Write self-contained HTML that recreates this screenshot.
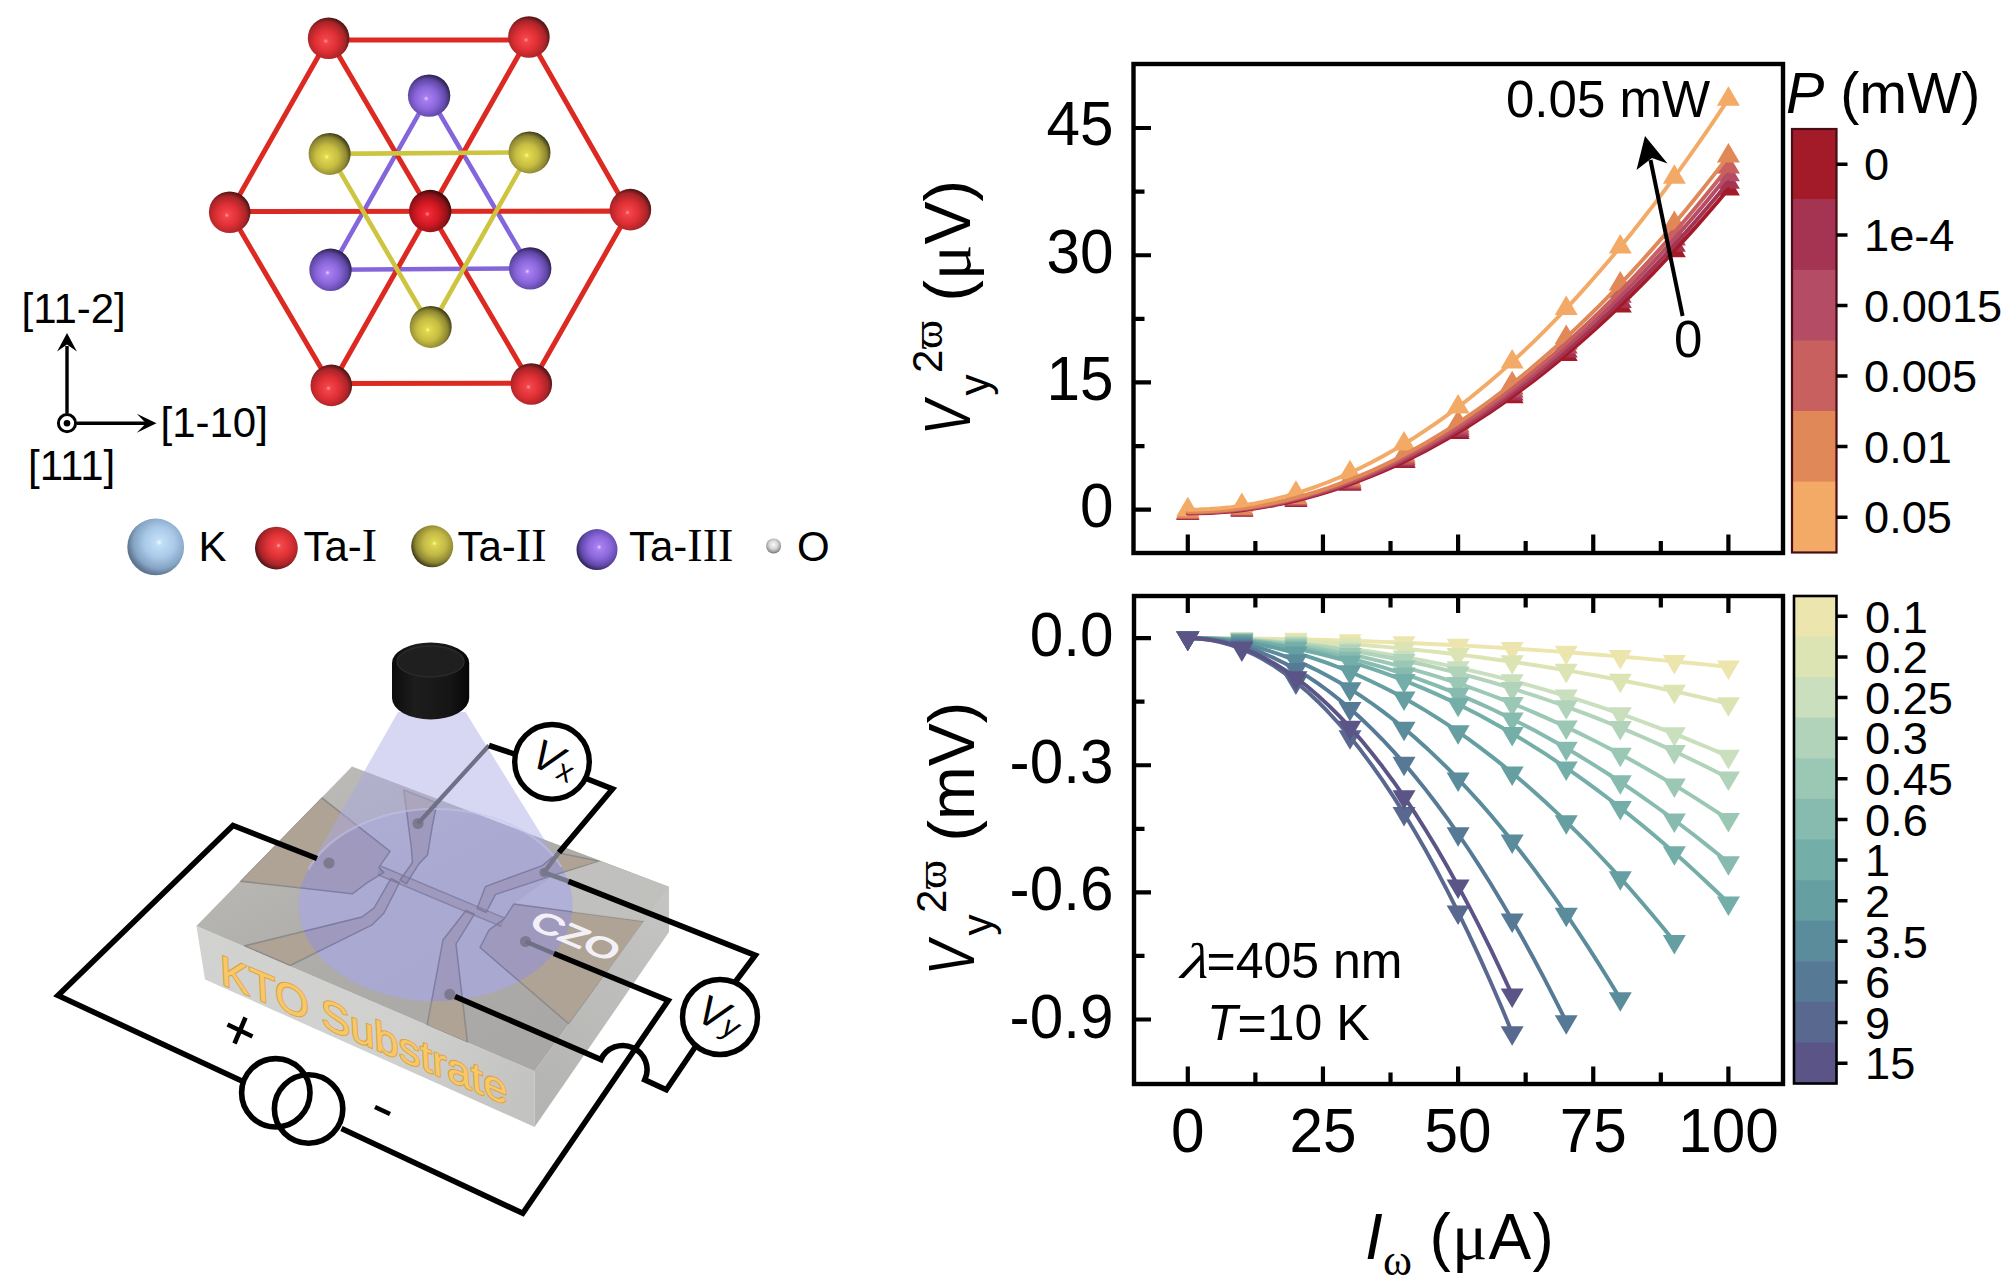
<!DOCTYPE html>
<html><head><meta charset="utf-8"><title>figure</title>
<style>
html,body{margin:0;padding:0;background:#fff}
body{width:2013px;height:1280px;overflow:hidden;position:relative}
svg{display:block;position:absolute;left:0;top:0}
text{font-family:"Liberation Sans",sans-serif}
.se{font-family:"Liberation Serif",serif}
.it{font-style:italic}
</style></head><body>
<svg width="2013" height="1280" viewBox="0 0 2013 1280">
<g id="chart-top">
<polygon fill="#a31b28" points="1187.8,500.52 1176.3,520.02 1199.3,520.02"/>
<polygon fill="#a31b28" points="1241.86,497.27 1230.36,516.77 1253.36,516.77"/>
<polygon fill="#a31b28" points="1295.92,487.54 1284.42,507.04 1307.42,507.04"/>
<polygon fill="#a31b28" points="1349.98,471.32 1338.48,490.82 1361.48,490.82"/>
<polygon fill="#a31b28" points="1404.04,448.61 1392.54,468.11 1415.54,468.11"/>
<polygon fill="#a31b28" points="1458.1,419.41 1446.6,438.91 1469.6,438.91"/>
<polygon fill="#a31b28" points="1512.16,383.72 1500.66,403.22 1523.66,403.22"/>
<polygon fill="#a31b28" points="1566.22,341.54 1554.72,361.04 1577.72,361.04"/>
<polygon fill="#a31b28" points="1620.28,292.88 1608.78,312.38 1631.78,312.38"/>
<polygon fill="#a31b28" points="1674.34,237.72 1662.84,257.22 1685.84,257.22"/>
<polygon fill="#a31b28" points="1728.4,176.08 1716.9,195.58 1739.9,195.58"/>
<polygon fill="#a53352" points="1187.8,500.09 1176.3,519.59 1199.3,519.59"/>
<polygon fill="#a53352" points="1241.86,496.78 1230.36,516.28 1253.36,516.28"/>
<polygon fill="#a53352" points="1295.92,486.86 1284.42,506.36 1307.42,506.36"/>
<polygon fill="#a53352" points="1349.98,470.32 1338.48,489.82 1361.48,489.82"/>
<polygon fill="#a53352" points="1404.04,447.17 1392.54,466.67 1415.54,466.67"/>
<polygon fill="#a53352" points="1458.1,417.39 1446.6,436.89 1469.6,436.89"/>
<polygon fill="#a53352" points="1512.16,381.01 1500.66,400.51 1523.66,400.51"/>
<polygon fill="#a53352" points="1566.22,338 1554.72,357.5 1577.72,357.5"/>
<polygon fill="#a53352" points="1620.28,288.38 1608.78,307.88 1631.78,307.88"/>
<polygon fill="#a53352" points="1674.34,232.15 1662.84,251.65 1685.84,251.65"/>
<polygon fill="#a53352" points="1728.4,169.29 1716.9,188.79 1739.9,188.79"/>
<polygon fill="#b54c66" points="1187.8,499.67 1176.3,519.17 1199.3,519.17"/>
<polygon fill="#b54c66" points="1241.86,496.29 1230.36,515.79 1253.36,515.79"/>
<polygon fill="#b54c66" points="1295.92,486.15 1284.42,505.65 1307.42,505.65"/>
<polygon fill="#b54c66" points="1349.98,469.25 1338.48,488.75 1361.48,488.75"/>
<polygon fill="#b54c66" points="1404.04,445.59 1392.54,465.09 1415.54,465.09"/>
<polygon fill="#b54c66" points="1458.1,415.17 1446.6,434.67 1469.6,434.67"/>
<polygon fill="#b54c66" points="1512.16,377.99 1500.66,397.49 1523.66,397.49"/>
<polygon fill="#b54c66" points="1566.22,334.04 1554.72,353.54 1577.72,353.54"/>
<polygon fill="#b54c66" points="1620.28,283.34 1608.78,302.84 1631.78,302.84"/>
<polygon fill="#b54c66" points="1674.34,225.88 1662.84,245.38 1685.84,245.38"/>
<polygon fill="#b54c66" points="1728.4,161.66 1716.9,181.16 1739.9,181.16"/>
<polygon fill="#c8605f" points="1187.8,499.24 1176.3,518.74 1199.3,518.74"/>
<polygon fill="#c8605f" points="1241.86,495.79 1230.36,515.29 1253.36,515.29"/>
<polygon fill="#c8605f" points="1295.92,485.44 1284.42,504.94 1307.42,504.94"/>
<polygon fill="#c8605f" points="1349.98,468.18 1338.48,487.68 1361.48,487.68"/>
<polygon fill="#c8605f" points="1404.04,444.01 1392.54,463.51 1415.54,463.51"/>
<polygon fill="#c8605f" points="1458.1,412.94 1446.6,432.44 1469.6,432.44"/>
<polygon fill="#c8605f" points="1512.16,374.97 1500.66,394.47 1523.66,394.47"/>
<polygon fill="#c8605f" points="1566.22,330.09 1554.72,349.59 1577.72,349.59"/>
<polygon fill="#c8605f" points="1620.28,278.31 1608.78,297.81 1631.78,297.81"/>
<polygon fill="#c8605f" points="1674.34,219.62 1662.84,239.12 1685.84,239.12"/>
<polygon fill="#c8605f" points="1728.4,154.03 1716.9,173.53 1739.9,173.53"/>
<polygon fill="#e18858" points="1187.8,498.82 1176.3,518.32 1199.3,518.32"/>
<polygon fill="#e18858" points="1241.86,495.26 1230.36,514.76 1253.36,514.76"/>
<polygon fill="#e18858" points="1295.92,484.59 1284.42,504.09 1307.42,504.09"/>
<polygon fill="#e18858" points="1349.98,466.8 1338.48,486.3 1361.48,486.3"/>
<polygon fill="#e18858" points="1404.04,441.89 1392.54,461.39 1415.54,461.39"/>
<polygon fill="#e18858" points="1458.1,409.87 1446.6,429.37 1469.6,429.37"/>
<polygon fill="#e18858" points="1512.16,370.73 1500.66,390.23 1523.66,390.23"/>
<polygon fill="#e18858" points="1566.22,324.47 1554.72,343.97 1577.72,343.97"/>
<polygon fill="#e18858" points="1620.28,271.1 1608.78,290.6 1631.78,290.6"/>
<polygon fill="#e18858" points="1674.34,210.61 1662.84,230.11 1685.84,230.11"/>
<polygon fill="#e18858" points="1728.4,143 1716.9,162.5 1739.9,162.5"/>
<polygon fill="#f3aa66" points="1187.8,496.7 1176.3,516.2 1199.3,516.2"/>
<polygon fill="#f3aa66" points="1241.86,492.59 1230.36,512.09 1253.36,512.09"/>
<polygon fill="#f3aa66" points="1295.92,480.28 1284.42,499.78 1307.42,499.78"/>
<polygon fill="#f3aa66" points="1349.98,459.75 1338.48,479.25 1361.48,479.25"/>
<polygon fill="#f3aa66" points="1404.04,431.02 1392.54,450.52 1415.54,450.52"/>
<polygon fill="#f3aa66" points="1458.1,394.07 1446.6,413.57 1469.6,413.57"/>
<polygon fill="#f3aa66" points="1512.16,348.91 1500.66,368.41 1523.66,368.41"/>
<polygon fill="#f3aa66" points="1566.22,295.54 1554.72,315.04 1577.72,315.04"/>
<polygon fill="#f3aa66" points="1620.28,233.96 1608.78,253.46 1631.78,253.46"/>
<polygon fill="#f3aa66" points="1674.34,164.17 1662.84,183.67 1685.84,183.67"/>
<polygon fill="#f3aa66" points="1728.4,86.17 1716.9,105.67 1739.9,105.67"/>
<polyline fill="none" stroke="#a31b28" stroke-width="3.9" stroke-linejoin="round" stroke-linecap="round" points="1187.8,513.52 1198.61,513.39 1209.42,513 1220.24,512.35 1231.05,511.44 1241.86,510.27 1252.67,508.85 1263.48,507.16 1274.3,505.21 1285.11,503.01 1295.92,500.54 1306.73,497.81 1317.54,494.83 1328.36,491.58 1339.17,488.08 1349.98,484.32 1360.79,480.29 1371.6,476.01 1382.42,471.47 1393.23,466.67 1404.04,461.61 1414.85,456.29 1425.66,450.71 1436.48,444.87 1447.29,438.77 1458.1,432.41 1468.91,425.79 1479.72,418.91 1490.54,411.77 1501.35,404.38 1512.16,396.72 1522.97,388.8 1533.78,380.63 1544.6,372.19 1555.41,363.5 1566.22,354.54 1577.03,345.33 1587.84,335.86 1598.66,326.12 1609.47,316.13 1620.28,305.88 1631.09,295.37 1641.9,284.59 1652.72,273.56 1663.53,262.27 1674.34,250.72 1685.15,238.91 1695.96,226.84 1706.78,214.52 1717.59,201.93 1728.4,189.08"/>
<polyline fill="none" stroke="#a53352" stroke-width="3.9" stroke-linejoin="round" stroke-linecap="round" points="1187.8,513.09 1198.61,512.96 1209.42,512.56 1220.24,511.9 1231.05,510.98 1241.86,509.78 1252.67,508.33 1263.48,506.61 1274.3,504.62 1285.11,502.37 1295.92,499.86 1306.73,497.08 1317.54,494.04 1328.36,490.73 1339.17,487.16 1349.98,483.32 1360.79,479.22 1371.6,474.85 1382.42,470.22 1393.23,465.33 1404.04,460.17 1414.85,454.74 1425.66,449.05 1436.48,443.1 1447.29,436.88 1458.1,430.39 1468.91,423.65 1479.72,416.63 1490.54,409.35 1501.35,401.81 1512.16,394.01 1522.97,385.93 1533.78,377.6 1544.6,369 1555.41,360.13 1566.22,351 1577.03,341.61 1587.84,331.95 1598.66,322.02 1609.47,311.84 1620.28,301.38 1631.09,290.66 1641.9,279.68 1652.72,268.43 1663.53,256.92 1674.34,245.15 1685.15,233.11 1695.96,220.8 1706.78,208.23 1717.59,195.39 1728.4,182.29"/>
<polyline fill="none" stroke="#b54c66" stroke-width="3.9" stroke-linejoin="round" stroke-linecap="round" points="1187.8,512.67 1198.61,512.53 1209.42,512.13 1220.24,511.45 1231.05,510.51 1241.86,509.29 1252.67,507.8 1263.48,506.04 1274.3,504.02 1285.11,501.72 1295.92,499.15 1306.73,496.31 1317.54,493.2 1328.36,489.82 1339.17,486.17 1349.98,482.25 1360.79,478.06 1371.6,473.6 1382.42,468.86 1393.23,463.86 1404.04,458.59 1414.85,453.04 1425.66,447.23 1436.48,441.15 1447.29,434.79 1458.1,428.17 1468.91,421.27 1479.72,414.11 1490.54,406.67 1501.35,398.96 1512.16,390.99 1522.97,382.74 1533.78,374.22 1544.6,365.43 1555.41,356.37 1566.22,347.04 1577.03,337.45 1587.84,327.58 1598.66,317.44 1609.47,307.02 1620.28,296.34 1631.09,285.39 1641.9,274.17 1652.72,262.68 1663.53,250.92 1674.34,238.88 1685.15,226.58 1695.96,214.01 1706.78,201.16 1717.59,188.05 1728.4,174.66"/>
<polyline fill="none" stroke="#c8605f" stroke-width="3.9" stroke-linejoin="round" stroke-linecap="round" points="1187.8,512.24 1198.61,512.11 1209.42,511.69 1220.24,511 1231.05,510.04 1241.86,508.79 1252.67,507.27 1263.48,505.48 1274.3,503.41 1285.11,501.06 1295.92,498.44 1306.73,495.54 1317.54,492.36 1328.36,488.91 1339.17,485.18 1349.98,481.18 1360.79,476.89 1371.6,472.34 1382.42,467.5 1393.23,462.4 1404.04,457.01 1414.85,451.35 1425.66,445.41 1436.48,439.2 1447.29,432.71 1458.1,425.94 1468.91,418.9 1479.72,411.58 1490.54,403.98 1501.35,396.11 1512.16,387.97 1522.97,379.54 1533.78,370.84 1544.6,361.87 1555.41,352.62 1566.22,343.09 1577.03,333.28 1587.84,323.2 1598.66,312.85 1609.47,302.21 1620.28,291.31 1631.09,280.12 1641.9,268.66 1652.72,256.92 1663.53,244.91 1674.34,232.62 1685.15,220.05 1695.96,207.21 1706.78,194.09 1717.59,180.7 1728.4,167.03"/>
<polyline fill="none" stroke="#e18858" stroke-width="3.9" stroke-linejoin="round" stroke-linecap="round" points="1187.8,511.82 1198.61,511.68 1209.42,511.25 1220.24,510.54 1231.05,509.54 1241.86,508.26 1252.67,506.7 1263.48,504.85 1274.3,502.71 1285.11,500.29 1295.92,497.59 1306.73,494.6 1317.54,491.33 1328.36,487.77 1339.17,483.92 1349.98,479.8 1360.79,475.38 1371.6,470.69 1382.42,465.71 1393.23,460.44 1404.04,454.89 1414.85,449.05 1425.66,442.93 1436.48,436.53 1447.29,429.84 1458.1,422.87 1468.91,415.61 1479.72,408.06 1490.54,400.24 1501.35,392.12 1512.16,383.73 1522.97,375.04 1533.78,366.08 1544.6,356.83 1555.41,347.29 1566.22,337.47 1577.03,327.36 1587.84,316.97 1598.66,306.3 1609.47,295.34 1620.28,284.1 1631.09,272.57 1641.9,260.75 1652.72,248.66 1663.53,236.27 1674.34,223.61 1685.15,210.65 1695.96,197.42 1706.78,183.9 1717.59,170.09 1728.4,156"/>
<polyline fill="none" stroke="#f3aa66" stroke-width="3.9" stroke-linejoin="round" stroke-linecap="round" points="1187.8,509.7 1198.61,509.54 1209.42,509.04 1220.24,508.22 1231.05,507.07 1241.86,505.59 1252.67,503.79 1263.48,501.65 1274.3,499.19 1285.11,496.4 1295.92,493.28 1306.73,489.83 1317.54,486.05 1328.36,481.95 1339.17,477.51 1349.98,472.75 1360.79,467.66 1371.6,462.24 1382.42,456.5 1393.23,450.42 1404.04,444.02 1414.85,437.28 1425.66,430.22 1436.48,422.83 1447.29,415.11 1458.1,407.07 1468.91,398.69 1479.72,389.99 1490.54,380.96 1501.35,371.6 1512.16,361.91 1522.97,351.89 1533.78,341.55 1544.6,330.87 1555.41,319.87 1566.22,308.54 1577.03,296.88 1587.84,284.89 1598.66,272.58 1609.47,259.93 1620.28,246.96 1631.09,233.66 1641.9,220.03 1652.72,206.07 1663.53,191.79 1674.34,177.17 1685.15,162.23 1695.96,146.96 1706.78,131.36 1717.59,115.43 1728.4,99.17"/>
<rect x="1133.5" y="64" width="649.5" height="489" fill="none" stroke="#000" stroke-width="4.4"/>
<path d="M1133.5 509.7h17.5 M1133.5 382.47h17.5 M1133.5 255.24h17.5 M1133.5 128.01h17.5 M1133.5 446.08h11 M1133.5 318.86h11 M1133.5 191.62h11 M1187.8 553v-18.5 M1322.95 553v-18.5 M1458.1 553v-18.5 M1593.25 553v-18.5 M1728.4 553v-18.5 M1255.38 553v-12 M1390.52 553v-12 M1525.67 553v-12 M1660.82 553v-12" stroke="#000" stroke-width="4.2" fill="none"/>
<text transform="translate(1113.4 527.1) scale(0.972 1.02)" font-size="62" text-anchor="end">0</text>
<text transform="translate(1113.4 399.87) scale(0.972 1.02)" font-size="62" text-anchor="end">15</text>
<text transform="translate(1113.4 272.64) scale(0.972 1.02)" font-size="62" text-anchor="end">30</text>
<text transform="translate(1113.4 145.41) scale(0.972 1.02)" font-size="62" text-anchor="end">45</text>
<text x="1506" y="117" font-size="51">0.05 mW</text>
<text x="1674" y="357" font-size="51">0</text>
<path d="M1682.6 316 L1650.5 160" stroke="#000" stroke-width="4" fill="none"/>
<polygon points="1645,136 1667.5,163.5 1652,158 1636.5,170" fill="#000"/>
<rect x="1792" y="128.7" width="44.5" height="71.18" fill="#a31b28"/>
<rect x="1792" y="199.28" width="44.5" height="71.18" fill="#a53352"/>
<rect x="1792" y="269.87" width="44.5" height="71.18" fill="#b54c66"/>
<rect x="1792" y="340.45" width="44.5" height="71.18" fill="#c8605f"/>
<rect x="1792" y="411.03" width="44.5" height="71.18" fill="#e18858"/>
<rect x="1792" y="481.62" width="44.5" height="71.18" fill="#f3aa66"/>
<rect x="1792" y="129" width="44.5" height="423.5" fill="none" stroke="#4a0d14" stroke-width="2.2"/>
<text x="1864" y="180.49" font-size="45.2">0</text>
<text x="1864" y="251.07" font-size="45.2">1e-4</text>
<text x="1864" y="321.66" font-size="45.2">0.0015</text>
<text x="1864" y="392.24" font-size="45.2">0.005</text>
<text x="1864" y="462.82" font-size="45.2">0.01</text>
<text x="1864" y="533.41" font-size="45.2">0.05</text>
<path d="M1836.5 164.29h11 M1836.5 234.88h11 M1836.5 305.46h11 M1836.5 376.04h11 M1836.5 446.62h11 M1836.5 517.21h11" stroke="#000" stroke-width="3.5" fill="none"/>
<text x="1786" y="113" font-size="57.4"><tspan class="it">P</tspan> (mW)</text>
<g transform="translate(970.2 435) rotate(-90)"><text transform="scale(0.8 1)" x="0" y="0" font-size="64" class="it">V</text><text x="39.5" y="18.8" font-size="42">y</text><text x="62" y="-27.8" font-size="42">2</text><text x="86" y="-27.8" font-size="44" class="se">ϖ</text><text x="133.6" y="0" font-size="64.5">(<tspan class="se" font-size="66">μ</tspan>V)</text></g>
</g>
<g id="chart-bot">
<polyline fill="none" stroke="#ede5ae" stroke-width="3.9" stroke-linejoin="round" stroke-linecap="round" points="1187.8,638.1 1198.61,638.11 1209.42,638.15 1220.24,638.2 1231.05,638.28 1241.86,638.39 1252.67,638.51 1263.48,638.66 1274.3,638.84 1285.11,639.03 1295.92,639.25 1306.73,639.49 1317.54,639.76 1328.36,640.05 1339.17,640.36 1349.98,640.69 1360.79,641.05 1371.6,641.43 1382.42,641.83 1393.23,642.26 1404.04,642.71 1414.85,643.18 1425.66,643.68 1436.48,644.2 1447.29,644.74 1458.1,645.3 1468.91,645.89 1479.72,646.5 1490.54,647.14 1501.35,647.79 1512.16,648.47 1522.97,649.18 1533.78,649.9 1544.6,650.65 1555.41,651.43 1566.22,652.22 1577.03,653.04 1587.84,653.88 1598.66,654.75 1609.47,655.63 1620.28,656.54 1631.09,657.48 1641.9,658.43 1652.72,659.41 1663.53,660.42 1674.34,661.44 1685.15,662.49 1695.96,663.56 1706.78,664.66 1717.59,665.78 1728.4,666.92"/>
<polygon fill="#ede5ae" points="1187.8,651.1 1176.3,631.6 1199.3,631.6"/><polygon fill="#ede5ae" points="1241.86,651.39 1230.36,631.89 1253.36,631.89"/><polygon fill="#ede5ae" points="1295.92,652.25 1284.42,632.75 1307.42,632.75"/><polygon fill="#ede5ae" points="1349.98,653.69 1338.48,634.19 1361.48,634.19"/><polygon fill="#ede5ae" points="1404.04,655.71 1392.54,636.21 1415.54,636.21"/><polygon fill="#ede5ae" points="1458.1,658.3 1446.6,638.8 1469.6,638.8"/><polygon fill="#ede5ae" points="1512.16,661.47 1500.66,641.97 1523.66,641.97"/><polygon fill="#ede5ae" points="1566.22,665.22 1554.72,645.72 1577.72,645.72"/><polygon fill="#ede5ae" points="1620.28,669.54 1608.78,650.04 1631.78,650.04"/><polygon fill="#ede5ae" points="1674.34,674.44 1662.84,654.94 1685.84,654.94"/><polygon fill="#ede5ae" points="1728.4,679.92 1716.9,660.42 1739.9,660.42"/>
<polyline fill="none" stroke="#dde4b4" stroke-width="3.9" stroke-linejoin="round" stroke-linecap="round" points="1187.8,638.1 1198.61,638.13 1209.42,638.21 1220.24,638.34 1231.05,638.52 1241.86,638.76 1252.67,639.05 1263.48,639.39 1274.3,639.78 1285.11,640.23 1295.92,640.73 1306.73,641.28 1317.54,641.88 1328.36,642.54 1339.17,643.25 1349.98,644.01 1360.79,644.83 1371.6,645.69 1382.42,646.61 1393.23,647.59 1404.04,648.61 1414.85,649.69 1425.66,650.82 1436.48,652 1447.29,653.23 1458.1,654.52 1468.91,655.86 1479.72,657.25 1490.54,658.7 1501.35,660.2 1512.16,661.75 1522.97,663.35 1533.78,665.01 1544.6,666.71 1555.41,668.47 1566.22,670.29 1577.03,672.15 1587.84,674.07 1598.66,676.04 1609.47,678.07 1620.28,680.14 1631.09,682.27 1641.9,684.45 1652.72,686.68 1663.53,688.97 1674.34,691.31 1685.15,693.7 1695.96,696.14 1706.78,698.64 1717.59,701.19 1728.4,703.79"/>
<polygon fill="#dde4b4" points="1187.8,651.1 1176.3,631.6 1199.3,631.6"/><polygon fill="#dde4b4" points="1241.86,651.76 1230.36,632.26 1253.36,632.26"/><polygon fill="#dde4b4" points="1295.92,653.73 1284.42,634.23 1307.42,634.23"/><polygon fill="#dde4b4" points="1349.98,657.01 1338.48,637.51 1361.48,637.51"/><polygon fill="#dde4b4" points="1404.04,661.61 1392.54,642.11 1415.54,642.11"/><polygon fill="#dde4b4" points="1458.1,667.52 1446.6,648.02 1469.6,648.02"/><polygon fill="#dde4b4" points="1512.16,674.75 1500.66,655.25 1523.66,655.25"/><polygon fill="#dde4b4" points="1566.22,683.29 1554.72,663.79 1577.72,663.79"/><polygon fill="#dde4b4" points="1620.28,693.14 1608.78,673.64 1631.78,673.64"/><polygon fill="#dde4b4" points="1674.34,704.31 1662.84,684.81 1685.84,684.81"/><polygon fill="#dde4b4" points="1728.4,716.79 1716.9,697.29 1739.9,697.29"/>
<polyline fill="none" stroke="#c9dfbd" stroke-width="3.9" stroke-linejoin="round" stroke-linecap="round" points="1187.8,638.1 1198.61,638.15 1209.42,638.29 1220.24,638.53 1231.05,638.86 1241.86,639.28 1252.67,639.8 1263.48,640.42 1274.3,641.13 1285.11,641.93 1295.92,642.83 1306.73,643.82 1317.54,644.91 1328.36,646.09 1339.17,647.37 1349.98,648.74 1360.79,650.21 1371.6,651.77 1382.42,653.42 1393.23,655.17 1404.04,657.02 1414.85,658.96 1425.66,660.99 1436.48,663.12 1447.29,665.34 1458.1,667.66 1468.91,670.07 1479.72,672.58 1490.54,675.18 1501.35,677.88 1512.16,680.67 1522.97,683.55 1533.78,686.53 1544.6,689.61 1555.41,692.77 1566.22,696.04 1577.03,699.4 1587.84,702.85 1598.66,706.4 1609.47,710.04 1620.28,713.77 1631.09,717.6 1641.9,721.53 1652.72,725.55 1663.53,729.67 1674.34,733.87 1685.15,738.18 1695.96,742.58 1706.78,747.07 1717.59,751.66 1728.4,756.34"/>
<polygon fill="#c9dfbd" points="1187.8,651.1 1176.3,631.6 1199.3,631.6"/><polygon fill="#c9dfbd" points="1241.86,652.28 1230.36,632.78 1253.36,632.78"/><polygon fill="#c9dfbd" points="1295.92,655.83 1284.42,636.33 1307.42,636.33"/><polygon fill="#c9dfbd" points="1349.98,661.74 1338.48,642.24 1361.48,642.24"/><polygon fill="#c9dfbd" points="1404.04,670.02 1392.54,650.52 1415.54,650.52"/><polygon fill="#c9dfbd" points="1458.1,680.66 1446.6,661.16 1469.6,661.16"/><polygon fill="#c9dfbd" points="1512.16,693.67 1500.66,674.17 1523.66,674.17"/><polygon fill="#c9dfbd" points="1566.22,709.04 1554.72,689.54 1577.72,689.54"/><polygon fill="#c9dfbd" points="1620.28,726.77 1608.78,707.27 1631.78,707.27"/><polygon fill="#c9dfbd" points="1674.34,746.87 1662.84,727.37 1685.84,727.37"/><polygon fill="#c9dfbd" points="1728.4,769.34 1716.9,749.84 1739.9,749.84"/>
<polyline fill="none" stroke="#b0d3ba" stroke-width="3.9" stroke-linejoin="round" stroke-linecap="round" points="1187.8,638.1 1198.61,638.16 1209.42,638.32 1220.24,638.6 1231.05,639 1241.86,639.5 1252.67,640.11 1263.48,640.84 1274.3,641.68 1285.11,642.63 1295.92,643.69 1306.73,644.87 1317.54,646.16 1328.36,647.55 1339.17,649.06 1349.98,650.69 1360.79,652.42 1371.6,654.27 1382.42,656.23 1393.23,658.29 1404.04,660.48 1414.85,662.77 1425.66,665.18 1436.48,667.69 1447.29,670.32 1458.1,673.06 1468.91,675.92 1479.72,678.88 1490.54,681.96 1501.35,685.15 1512.16,688.45 1522.97,691.86 1533.78,695.38 1544.6,699.02 1555.41,702.77 1566.22,706.63 1577.03,710.6 1587.84,714.68 1598.66,718.88 1609.47,723.19 1620.28,727.61 1631.09,732.14 1641.9,736.78 1652.72,741.54 1663.53,746.4 1674.34,751.38 1685.15,756.47 1695.96,761.67 1706.78,766.99 1717.59,772.42 1728.4,777.95"/>
<polygon fill="#b0d3ba" points="1187.8,651.1 1176.3,631.6 1199.3,631.6"/><polygon fill="#b0d3ba" points="1241.86,652.5 1230.36,633 1253.36,633"/><polygon fill="#b0d3ba" points="1295.92,656.69 1284.42,637.19 1307.42,637.19"/><polygon fill="#b0d3ba" points="1349.98,663.69 1338.48,644.19 1361.48,644.19"/><polygon fill="#b0d3ba" points="1404.04,673.48 1392.54,653.98 1415.54,653.98"/><polygon fill="#b0d3ba" points="1458.1,686.06 1446.6,666.56 1469.6,666.56"/><polygon fill="#b0d3ba" points="1512.16,701.45 1500.66,681.95 1523.66,681.95"/><polygon fill="#b0d3ba" points="1566.22,719.63 1554.72,700.13 1577.72,700.13"/><polygon fill="#b0d3ba" points="1620.28,740.61 1608.78,721.11 1631.78,721.11"/><polygon fill="#b0d3ba" points="1674.34,764.38 1662.84,744.88 1685.84,744.88"/><polygon fill="#b0d3ba" points="1728.4,790.95 1716.9,771.45 1739.9,771.45"/>
<polyline fill="none" stroke="#9ac8b5" stroke-width="3.9" stroke-linejoin="round" stroke-linecap="round" points="1187.8,638.1 1198.61,638.17 1209.42,638.39 1220.24,638.75 1231.05,639.26 1241.86,639.91 1252.67,640.71 1263.48,641.66 1274.3,642.74 1285.11,643.98 1295.92,645.36 1306.73,646.88 1317.54,648.55 1328.36,650.36 1339.17,652.32 1349.98,654.42 1360.79,656.67 1371.6,659.07 1382.42,661.61 1393.23,664.29 1404.04,667.12 1414.85,670.1 1425.66,673.22 1436.48,676.48 1447.29,679.89 1458.1,683.45 1468.91,687.15 1479.72,690.99 1490.54,694.98 1501.35,699.12 1512.16,703.4 1522.97,707.82 1533.78,712.4 1544.6,717.11 1555.41,721.97 1566.22,726.98 1577.03,732.13 1587.84,737.43 1598.66,742.87 1609.47,748.46 1620.28,754.19 1631.09,760.06 1641.9,766.09 1652.72,772.25 1663.53,778.57 1674.34,785.02 1685.15,791.63 1695.96,798.37 1706.78,805.27 1717.59,812.3 1728.4,819.49"/>
<polygon fill="#9ac8b5" points="1187.8,651.1 1176.3,631.6 1199.3,631.6"/><polygon fill="#9ac8b5" points="1241.86,652.91 1230.36,633.41 1253.36,633.41"/><polygon fill="#9ac8b5" points="1295.92,658.36 1284.42,638.86 1307.42,638.86"/><polygon fill="#9ac8b5" points="1349.98,667.42 1338.48,647.92 1361.48,647.92"/><polygon fill="#9ac8b5" points="1404.04,680.12 1392.54,660.62 1415.54,660.62"/><polygon fill="#9ac8b5" points="1458.1,696.45 1446.6,676.95 1469.6,676.95"/><polygon fill="#9ac8b5" points="1512.16,716.4 1500.66,696.9 1523.66,696.9"/><polygon fill="#9ac8b5" points="1566.22,739.98 1554.72,720.48 1577.72,720.48"/><polygon fill="#9ac8b5" points="1620.28,767.19 1608.78,747.69 1631.78,747.69"/><polygon fill="#9ac8b5" points="1674.34,798.02 1662.84,778.52 1685.84,778.52"/><polygon fill="#9ac8b5" points="1728.4,832.49 1716.9,812.99 1739.9,812.99"/>
<polyline fill="none" stroke="#87bbb0" stroke-width="3.9" stroke-linejoin="round" stroke-linecap="round" points="1187.8,638.1 1198.61,638.19 1209.42,638.46 1220.24,638.91 1231.05,639.54 1241.86,640.35 1252.67,641.33 1263.48,642.5 1274.3,643.85 1285.11,645.38 1295.92,647.08 1306.73,648.97 1317.54,651.04 1328.36,653.28 1339.17,655.71 1349.98,658.32 1360.79,661.1 1371.6,664.07 1382.42,667.21 1393.23,670.53 1404.04,674.04 1414.85,677.72 1425.66,681.59 1436.48,685.63 1447.29,689.85 1458.1,694.25 1468.91,698.84 1479.72,703.6 1490.54,708.54 1501.35,713.66 1512.16,718.96 1522.97,724.44 1533.78,730.1 1544.6,735.94 1555.41,741.96 1566.22,748.16 1577.03,754.54 1587.84,761.1 1598.66,767.84 1609.47,774.76 1620.28,781.85 1631.09,789.13 1641.9,796.59 1652.72,804.22 1663.53,812.04 1674.34,820.04 1685.15,828.21 1695.96,836.57 1706.78,845.1 1717.59,853.82 1728.4,862.71"/>
<polygon fill="#87bbb0" points="1187.8,651.1 1176.3,631.6 1199.3,631.6"/><polygon fill="#87bbb0" points="1241.86,653.35 1230.36,633.85 1253.36,633.85"/><polygon fill="#87bbb0" points="1295.92,660.08 1284.42,640.58 1307.42,640.58"/><polygon fill="#87bbb0" points="1349.98,671.32 1338.48,651.82 1361.48,651.82"/><polygon fill="#87bbb0" points="1404.04,687.04 1392.54,667.54 1415.54,667.54"/><polygon fill="#87bbb0" points="1458.1,707.25 1446.6,687.75 1469.6,687.75"/><polygon fill="#87bbb0" points="1512.16,731.96 1500.66,712.46 1523.66,712.46"/><polygon fill="#87bbb0" points="1566.22,761.16 1554.72,741.66 1577.72,741.66"/><polygon fill="#87bbb0" points="1620.28,794.85 1608.78,775.35 1631.78,775.35"/><polygon fill="#87bbb0" points="1674.34,833.04 1662.84,813.54 1685.84,813.54"/><polygon fill="#87bbb0" points="1728.4,875.71 1716.9,856.21 1739.9,856.21"/>
<polyline fill="none" stroke="#74aea8" stroke-width="3.9" stroke-linejoin="round" stroke-linecap="round" points="1187.8,638.1 1198.61,638.21 1209.42,638.52 1220.24,639.05 1231.05,639.8 1241.86,640.75 1252.67,641.91 1263.48,643.29 1274.3,644.88 1285.11,646.68 1295.92,648.7 1306.73,650.92 1317.54,653.36 1328.36,656.01 1339.17,658.87 1349.98,661.94 1360.79,665.22 1371.6,668.72 1382.42,672.43 1393.23,676.35 1404.04,680.48 1414.85,684.82 1425.66,689.38 1436.48,694.15 1447.29,699.13 1458.1,704.32 1468.91,709.72 1479.72,715.34 1490.54,721.16 1501.35,727.2 1512.16,733.46 1522.97,739.92 1533.78,746.59 1544.6,753.48 1555.41,760.58 1566.22,767.89 1577.03,775.41 1587.84,783.15 1598.66,791.09 1609.47,799.25 1620.28,807.62 1631.09,816.2 1641.9,825 1652.72,834 1663.53,843.22 1674.34,852.65 1685.15,862.29 1695.96,872.14 1706.78,882.21 1717.59,892.49 1728.4,902.98"/>
<polygon fill="#74aea8" points="1187.8,651.1 1176.3,631.6 1199.3,631.6"/><polygon fill="#74aea8" points="1241.86,653.75 1230.36,634.25 1253.36,634.25"/><polygon fill="#74aea8" points="1295.92,661.7 1284.42,642.2 1307.42,642.2"/><polygon fill="#74aea8" points="1349.98,674.94 1338.48,655.44 1361.48,655.44"/><polygon fill="#74aea8" points="1404.04,693.48 1392.54,673.98 1415.54,673.98"/><polygon fill="#74aea8" points="1458.1,717.32 1446.6,697.82 1469.6,697.82"/><polygon fill="#74aea8" points="1512.16,746.46 1500.66,726.96 1523.66,726.96"/><polygon fill="#74aea8" points="1566.22,780.89 1554.72,761.39 1577.72,761.39"/><polygon fill="#74aea8" points="1620.28,820.62 1608.78,801.12 1631.78,801.12"/><polygon fill="#74aea8" points="1674.34,865.65 1662.84,846.15 1685.84,846.15"/><polygon fill="#74aea8" points="1728.4,915.98 1716.9,896.48 1739.9,896.48"/>
<polyline fill="none" stroke="#659fa1" stroke-width="3.9" stroke-linejoin="round" stroke-linecap="round" points="1187.8,638.1 1198.61,638.25 1209.42,638.7 1220.24,639.45 1231.05,640.5 1241.86,641.85 1252.67,643.49 1263.48,645.44 1274.3,647.69 1285.11,650.24 1295.92,653.08 1306.73,656.23 1317.54,659.68 1328.36,663.42 1339.17,667.47 1349.98,671.82 1360.79,676.46 1371.6,681.41 1382.42,686.65 1393.23,692.19 1404.04,698.04 1414.85,704.18 1425.66,710.63 1436.48,717.37 1447.29,724.41 1458.1,731.75 1468.91,739.4 1479.72,747.34 1490.54,755.58 1501.35,764.12 1512.16,772.96 1522.97,782.1 1533.78,791.54 1544.6,801.28 1555.41,811.32 1566.22,821.66 1577.03,832.3 1587.84,843.24 1598.66,854.48 1609.47,866.02 1620.28,877.86 1631.09,889.99 1641.9,902.43 1652.72,915.17 1663.53,928.2 1674.34,941.54"/>
<polygon fill="#659fa1" points="1187.8,651.1 1176.3,631.6 1199.3,631.6"/><polygon fill="#659fa1" points="1241.86,654.85 1230.36,635.35 1253.36,635.35"/><polygon fill="#659fa1" points="1295.92,666.08 1284.42,646.58 1307.42,646.58"/><polygon fill="#659fa1" points="1349.98,684.82 1338.48,665.32 1361.48,665.32"/><polygon fill="#659fa1" points="1404.04,711.04 1392.54,691.54 1415.54,691.54"/><polygon fill="#659fa1" points="1458.1,744.75 1446.6,725.25 1469.6,725.25"/><polygon fill="#659fa1" points="1512.16,785.96 1500.66,766.46 1523.66,766.46"/><polygon fill="#659fa1" points="1566.22,834.66 1554.72,815.16 1577.72,815.16"/><polygon fill="#659fa1" points="1620.28,890.86 1608.78,871.36 1631.78,871.36"/><polygon fill="#659fa1" points="1674.34,954.54 1662.84,935.04 1685.84,935.04"/>
<polyline fill="none" stroke="#5a8c9c" stroke-width="3.9" stroke-linejoin="round" stroke-linecap="round" points="1187.8,638.1 1198.61,638.33 1209.42,639 1220.24,640.13 1231.05,641.71 1241.86,643.74 1252.67,646.21 1263.48,649.15 1274.3,652.53 1285.11,656.36 1295.92,660.64 1306.73,665.37 1317.54,670.56 1328.36,676.19 1339.17,682.28 1349.98,688.82 1360.79,695.8 1371.6,703.24 1382.42,711.13 1393.23,719.47 1404.04,728.26 1414.85,737.51 1425.66,747.2 1436.48,757.34 1447.29,767.94 1458.1,778.98 1468.91,790.48 1479.72,802.42 1490.54,814.82 1501.35,827.67 1512.16,840.97 1522.97,854.72 1533.78,868.92 1544.6,883.57 1555.41,898.67 1566.22,914.23 1577.03,930.23 1587.84,946.68 1598.66,963.59 1609.47,980.95 1620.28,998.75"/>
<polygon fill="#5a8c9c" points="1187.8,651.1 1176.3,631.6 1199.3,631.6"/><polygon fill="#5a8c9c" points="1241.86,656.74 1230.36,637.24 1253.36,637.24"/><polygon fill="#5a8c9c" points="1295.92,673.64 1284.42,654.14 1307.42,654.14"/><polygon fill="#5a8c9c" points="1349.98,701.82 1338.48,682.32 1361.48,682.32"/><polygon fill="#5a8c9c" points="1404.04,741.26 1392.54,721.76 1415.54,721.76"/><polygon fill="#5a8c9c" points="1458.1,791.98 1446.6,772.48 1469.6,772.48"/><polygon fill="#5a8c9c" points="1512.16,853.97 1500.66,834.47 1523.66,834.47"/><polygon fill="#5a8c9c" points="1566.22,927.23 1554.72,907.73 1577.72,907.73"/><polygon fill="#5a8c9c" points="1620.28,1011.75 1608.78,992.25 1631.78,992.25"/>
<polyline fill="none" stroke="#567a96" stroke-width="3.9" stroke-linejoin="round" stroke-linecap="round" points="1187.8,638.1 1198.61,638.41 1209.42,639.35 1220.24,640.92 1231.05,643.11 1241.86,645.93 1252.67,649.37 1263.48,653.44 1274.3,658.14 1285.11,663.46 1295.92,669.41 1306.73,675.98 1317.54,683.19 1328.36,691.01 1339.17,699.47 1349.98,708.55 1360.79,718.25 1371.6,728.58 1382.42,739.54 1393.23,751.13 1404.04,763.34 1414.85,776.17 1425.66,789.64 1436.48,803.73 1447.29,818.44 1458.1,833.78 1468.91,849.75 1479.72,866.34 1490.54,883.56 1501.35,901.41 1512.16,919.88 1522.97,938.98 1533.78,958.71 1544.6,979.06 1555.41,1000.04 1566.22,1021.64"/>
<polygon fill="#567a96" points="1187.8,651.1 1176.3,631.6 1199.3,631.6"/><polygon fill="#567a96" points="1241.86,658.93 1230.36,639.43 1253.36,639.43"/><polygon fill="#567a96" points="1295.92,682.41 1284.42,662.91 1307.42,662.91"/><polygon fill="#567a96" points="1349.98,721.55 1338.48,702.05 1361.48,702.05"/><polygon fill="#567a96" points="1404.04,776.34 1392.54,756.84 1415.54,756.84"/><polygon fill="#567a96" points="1458.1,846.78 1446.6,827.28 1469.6,827.28"/><polygon fill="#567a96" points="1512.16,932.88 1500.66,913.38 1523.66,913.38"/><polygon fill="#567a96" points="1566.22,1034.64 1554.72,1015.14 1577.72,1015.14"/>
<polyline fill="none" stroke="#58688f" stroke-width="3.9" stroke-linejoin="round" stroke-linecap="round" points="1187.8,638.1 1198.61,638.54 1209.42,639.85 1220.24,642.05 1231.05,645.11 1241.86,649.06 1252.67,653.88 1263.48,659.58 1274.3,666.16 1285.11,673.61 1295.92,681.94 1306.73,691.15 1317.54,701.23 1328.36,712.19 1339.17,724.03 1349.98,736.74 1360.79,750.33 1371.6,764.8 1382.42,780.14 1393.23,796.36 1404.04,813.46 1414.85,831.43 1425.66,850.28 1436.48,870.01 1447.29,890.62 1458.1,912.1 1468.91,934.46 1479.72,957.69 1490.54,981.8 1501.35,1006.79 1512.16,1032.66"/>
<polygon fill="#58688f" points="1187.8,651.1 1176.3,631.6 1199.3,631.6"/><polygon fill="#58688f" points="1241.86,662.06 1230.36,642.56 1253.36,642.56"/><polygon fill="#58688f" points="1295.92,694.94 1284.42,675.44 1307.42,675.44"/><polygon fill="#58688f" points="1349.98,749.74 1338.48,730.24 1361.48,730.24"/><polygon fill="#58688f" points="1404.04,826.46 1392.54,806.96 1415.54,806.96"/><polygon fill="#58688f" points="1458.1,925.1 1446.6,905.6 1469.6,905.6"/><polygon fill="#58688f" points="1512.16,1045.66 1500.66,1026.16 1523.66,1026.16"/>
<polyline fill="none" stroke="#5b5486" stroke-width="3.9" stroke-linejoin="round" stroke-linecap="round" points="1187.8,638.1 1198.61,638.5 1209.42,639.69 1220.24,641.67 1231.05,644.44 1241.86,648.01 1252.67,652.37 1263.48,657.53 1274.3,663.48 1285.11,670.22 1295.92,677.75 1306.73,686.08 1317.54,695.19 1328.36,705.11 1339.17,715.81 1349.98,727.31 1360.79,739.6 1371.6,752.69 1382.42,766.56 1393.23,781.23 1404.04,796.7 1414.85,812.95 1425.66,830 1436.48,847.84 1447.29,866.48 1458.1,885.91 1468.91,906.13 1479.72,927.14 1490.54,948.95 1501.35,971.55 1512.16,994.94"/>
<polygon fill="#5b5486" points="1187.8,651.1 1176.3,631.6 1199.3,631.6"/><polygon fill="#5b5486" points="1241.86,661.01 1230.36,641.51 1253.36,641.51"/><polygon fill="#5b5486" points="1295.92,690.75 1284.42,671.25 1307.42,671.25"/><polygon fill="#5b5486" points="1349.98,740.31 1338.48,720.81 1361.48,720.81"/><polygon fill="#5b5486" points="1404.04,809.7 1392.54,790.2 1415.54,790.2"/><polygon fill="#5b5486" points="1458.1,898.91 1446.6,879.41 1469.6,879.41"/><polygon fill="#5b5486" points="1512.16,1007.94 1500.66,988.44 1523.66,988.44"/>
<rect x="1134" y="596" width="649" height="488" fill="none" stroke="#000" stroke-width="4.4"/>
<path d="M1133.5 638.1h17.5 M1133.5 765.24h17.5 M1133.5 892.38h17.5 M1133.5 1019.52h17.5 M1133.5 701.67h11 M1133.5 828.81h11 M1133.5 955.95h11 M1187.8 1084v-17.5 M1187.8 596v17 M1322.95 1084v-17.5 M1322.95 596v17 M1458.1 1084v-17.5 M1458.1 596v17 M1593.25 1084v-17.5 M1593.25 596v17 M1728.4 1084v-17.5 M1728.4 596v17 M1255.38 1084v-11.5 M1255.38 596v11.5 M1390.52 1084v-11.5 M1390.52 596v11.5 M1525.67 1084v-11.5 M1525.67 596v11.5 M1660.82 1084v-11.5 M1660.82 596v11.5" stroke="#000" stroke-width="4.2" fill="none"/>
<text transform="translate(1113.4 656.1) scale(0.972 1.02)" font-size="62" text-anchor="end">0.0</text>
<text transform="translate(1113.4 783.24) scale(0.972 1.02)" font-size="62" text-anchor="end">-0.3</text>
<text transform="translate(1113.4 910.38) scale(0.972 1.02)" font-size="62" text-anchor="end">-0.6</text>
<text transform="translate(1113.4 1037.52) scale(0.972 1.02)" font-size="62" text-anchor="end">-0.9</text>
<text transform="translate(1187.8 1151.7) scale(0.972 1.02)" font-size="62" text-anchor="middle">0</text>
<text transform="translate(1322.95 1151.7) scale(0.972 1.02)" font-size="62" text-anchor="middle">25</text>
<text transform="translate(1458.1 1151.7) scale(0.972 1.02)" font-size="62" text-anchor="middle">50</text>
<text transform="translate(1593.25 1151.7) scale(0.972 1.02)" font-size="62" text-anchor="middle">75</text>
<text transform="translate(1728.4 1151.7) scale(0.972 1.02)" font-size="62" text-anchor="middle">100</text>
<text transform="translate(1180 978) skewX(-10) scale(1.3 1)" font-size="50" class="se" style="font-style:italic">λ</text><text x="1206.5" y="978" font-size="50">=405 nm</text>
<text x="1207" y="1039.5" font-size="50"><tspan class="it">T</tspan>=10 K</text>
<rect x="1794" y="595.7" width="42.5" height="41.23" fill="#ede5ae"/>
<rect x="1794" y="636.33" width="42.5" height="41.23" fill="#dde4b4"/>
<rect x="1794" y="676.95" width="42.5" height="41.23" fill="#c9dfbd"/>
<rect x="1794" y="717.58" width="42.5" height="41.23" fill="#b0d3ba"/>
<rect x="1794" y="758.2" width="42.5" height="41.23" fill="#9ac8b5"/>
<rect x="1794" y="798.83" width="42.5" height="41.23" fill="#87bbb0"/>
<rect x="1794" y="839.45" width="42.5" height="41.23" fill="#74aea8"/>
<rect x="1794" y="880.08" width="42.5" height="41.23" fill="#659fa1"/>
<rect x="1794" y="920.7" width="42.5" height="41.23" fill="#5a8c9c"/>
<rect x="1794" y="961.33" width="42.5" height="41.23" fill="#567a96"/>
<rect x="1794" y="1001.95" width="42.5" height="41.23" fill="#58688f"/>
<rect x="1794" y="1042.58" width="42.5" height="41.23" fill="#5b5486"/>
<rect x="1794" y="596" width="42.5" height="487.5" fill="none" stroke="#000" stroke-width="2.6"/>
<text x="1865" y="632.51" font-size="45.2">0.1</text>
<text x="1865" y="673.14" font-size="45.2">0.2</text>
<text x="1865" y="713.76" font-size="45.2">0.25</text>
<text x="1865" y="754.39" font-size="45.2">0.3</text>
<text x="1865" y="795.01" font-size="45.2">0.45</text>
<text x="1865" y="835.64" font-size="45.2">0.6</text>
<text x="1865" y="876.26" font-size="45.2">1</text>
<text x="1865" y="916.89" font-size="45.2">2</text>
<text x="1865" y="957.51" font-size="45.2">3.5</text>
<text x="1865" y="998.14" font-size="45.2">6</text>
<text x="1865" y="1038.76" font-size="45.2">9</text>
<text x="1865" y="1079.39" font-size="45.2">15</text>
<path d="M1836.5 616.31h11 M1836.5 656.94h11 M1836.5 697.56h11 M1836.5 738.19h11 M1836.5 778.81h11 M1836.5 819.44h11 M1836.5 860.06h11 M1836.5 900.69h11 M1836.5 941.31h11 M1836.5 981.94h11 M1836.5 1022.56h11 M1836.5 1063.19h11" stroke="#000" stroke-width="3.5" fill="none"/>
<g transform="translate(973.6 975) rotate(-90)"><text transform="scale(0.8 1)" x="0" y="0" font-size="64" class="it">V</text><text x="39.5" y="18.8" font-size="42">y</text><text x="62" y="-27.8" font-size="42">2</text><text x="86" y="-27.8" font-size="44" class="se">ϖ</text><text x="133.6" y="0" font-size="64.5">(mV)</text></g>
<text x="1365" y="1258.5" font-size="64"><tspan class="it">I</tspan></text>
<text class="se" x="1383" y="1275" font-size="44">ω</text>
<text x="1429.5" y="1258.5" font-size="64" letter-spacing="1.2">(<tspan class="se" font-size="66">μ</tspan>A)</text>
</g>
<defs>
<radialGradient id="gR" cx="0.45" cy="0.57" r="0.64" fx="0.43" fy="0.57"><stop offset="0" stop-color="#ff9a96"/><stop offset="0.09" stop-color="#f2444a"/><stop offset="0.42" stop-color="#de2f34"/><stop offset="0.72" stop-color="#a82428"/><stop offset="0.9" stop-color="#4a1414"/><stop offset="1" stop-color="#4a1414"/></radialGradient>
<radialGradient id="gRc" cx="0.45" cy="0.57" r="0.64" fx="0.43" fy="0.57"><stop offset="0" stop-color="#ff8a88"/><stop offset="0.09" stop-color="#ee2a36"/><stop offset="0.42" stop-color="#d21822"/><stop offset="0.72" stop-color="#8e1218"/><stop offset="0.9" stop-color="#380a0c"/><stop offset="1" stop-color="#380a0c"/></radialGradient>
<radialGradient id="gY" cx="0.45" cy="0.57" r="0.64" fx="0.43" fy="0.57"><stop offset="0" stop-color="#ffff8a"/><stop offset="0.09" stop-color="#e0d84e"/><stop offset="0.42" stop-color="#c6bd42"/><stop offset="0.72" stop-color="#8e8732"/><stop offset="0.9" stop-color="#3c3a16"/><stop offset="1" stop-color="#3c3a16"/></radialGradient>
<radialGradient id="gP" cx="0.45" cy="0.57" r="0.64" fx="0.43" fy="0.57"><stop offset="0" stop-color="#f2ccff"/><stop offset="0.09" stop-color="#a77ef0"/><stop offset="0.42" stop-color="#8a66da"/><stop offset="0.72" stop-color="#5e46a4"/><stop offset="0.9" stop-color="#2a2048"/><stop offset="1" stop-color="#2a2048"/></radialGradient>
<radialGradient id="gK" cx="0.45" cy="0.57" r="0.64" fx="0.43" fy="0.57"><stop offset="0" stop-color="#e8f8ff"/><stop offset="0.09" stop-color="#bcdcf6"/><stop offset="0.42" stop-color="#a6c6e6"/><stop offset="0.72" stop-color="#7f9dbd"/><stop offset="0.9" stop-color="#52687f"/><stop offset="1" stop-color="#52687f"/></radialGradient>
<radialGradient id="gO" cx="0.45" cy="0.57" r="0.64" fx="0.43" fy="0.57"><stop offset="0" stop-color="#ffffff"/><stop offset="0.09" stop-color="#f0f0f0"/><stop offset="0.42" stop-color="#d8d8d8"/><stop offset="0.72" stop-color="#a0a0a0"/><stop offset="0.9" stop-color="#686868"/><stop offset="1" stop-color="#686868"/></radialGradient>
<radialGradient id="lR" cx="0.57" cy="0.44" r="0.64" fx="0.5499999999999999" fy="0.44"><stop offset="0" stop-color="#ffa8a0"/><stop offset="0.09" stop-color="#f4484a"/><stop offset="0.42" stop-color="#e03236"/><stop offset="0.72" stop-color="#a82428"/><stop offset="0.9" stop-color="#521616"/><stop offset="1" stop-color="#521616"/></radialGradient>
<radialGradient id="lY" cx="0.57" cy="0.43" r="0.64" fx="0.5499999999999999" fy="0.43"><stop offset="0" stop-color="#ffff90"/><stop offset="0.09" stop-color="#ddd552"/><stop offset="0.42" stop-color="#c2b948"/><stop offset="0.72" stop-color="#8e8732"/><stop offset="0.9" stop-color="#44421a"/><stop offset="1" stop-color="#44421a"/></radialGradient>
<radialGradient id="lP" cx="0.57" cy="0.44" r="0.64" fx="0.5499999999999999" fy="0.44"><stop offset="0" stop-color="#f4d0ff"/><stop offset="0.09" stop-color="#a880f0"/><stop offset="0.42" stop-color="#8c68dc"/><stop offset="0.72" stop-color="#6048a8"/><stop offset="0.9" stop-color="#30265a"/><stop offset="1" stop-color="#30265a"/></radialGradient>
<radialGradient id="lK" cx="0.58" cy="0.42" r="0.64" fx="0.5599999999999999" fy="0.42"><stop offset="0" stop-color="#eafaff"/><stop offset="0.09" stop-color="#c0def6"/><stop offset="0.42" stop-color="#a9c9e8"/><stop offset="0.72" stop-color="#86a4c4"/><stop offset="0.9" stop-color="#5e7690"/><stop offset="1" stop-color="#5e7690"/></radialGradient>
<radialGradient id="lO" cx="0.5" cy="0.42" r="0.64" fx="0.48" fy="0.42"><stop offset="0" stop-color="#ffffff"/><stop offset="0.09" stop-color="#f2f2f2"/><stop offset="0.42" stop-color="#dadada"/><stop offset="0.72" stop-color="#a4a4a4"/><stop offset="0.9" stop-color="#707070"/><stop offset="1" stop-color="#707070"/></radialGradient>
</defs>
<g id="crystal">
<path d="M429.1 95.6L330.5 269.8 M429.1 95.6L530.2 268.4 M330.5 269.8L530.2 268.4" stroke="#8466dc" stroke-width="4.6" fill="none"/>
<path d="M328.6 40L528.9 40 M528.9 37L627.5 209.6 M630.4 209.6L531.3 384 M531.3 383.2L331.3 383.4 M331.3 385.4L229.7 212.3 M229.7 212.3L328.6 38.2 M229.7 211.6L630.4 211 M328.6 38.2L531.3 384 M528.9 37L331.3 385.4" stroke="#dc2a22" stroke-width="5" fill="none"/>
<path d="M329.6 153.9L529.5 152.4 M329.6 153.9L430.7 326.9 M529.5 152.4L430.7 326.9" stroke="#cdc440" stroke-width="4.6" fill="none"/>
<circle cx="328.6" cy="38.2" r="20.8" fill="url(#gR)"/>
<circle cx="528.9" cy="37" r="20.8" fill="url(#gR)"/>
<circle cx="229.7" cy="212.3" r="20.8" fill="url(#gR)"/>
<circle cx="630.4" cy="209.6" r="20.8" fill="url(#gR)"/>
<circle cx="331.3" cy="385.4" r="20.8" fill="url(#gR)"/>
<circle cx="531.3" cy="384" r="20.8" fill="url(#gR)"/>
<circle cx="430.2" cy="211" r="21.2" fill="url(#gRc)"/>
<circle cx="329.6" cy="153.9" r="21" fill="url(#gY)"/>
<circle cx="529.5" cy="152.4" r="21" fill="url(#gY)"/>
<circle cx="430.7" cy="326.9" r="21" fill="url(#gY)"/>
<circle cx="429.1" cy="95.6" r="21.2" fill="url(#gP)"/>
<circle cx="330.5" cy="269.8" r="21.2" fill="url(#gP)"/>
<circle cx="530.2" cy="268.4" r="21.2" fill="url(#gP)"/>
</g>
<g id="axes">
<path d="M67 413.5V346M77 423.2H148" stroke="#000" stroke-width="3.4" fill="none"/>
<polygon points="67,333 76.9,351.5 67,344.6 57.1,351.5" fill="#000"/>
<polygon points="156.5,423.2 136.8,413.7 146,423.2 136.8,432.7" fill="#000"/>
<circle cx="67" cy="423.2" r="8.6" fill="#fff" stroke="#000" stroke-width="3"/>
<circle cx="67" cy="423.2" r="3.3" fill="#000"/>
<text x="21.5" y="323" font-size="42">[11-2]</text>
<text x="160.5" y="437" font-size="42">[1-10]</text>
<text x="28" y="479.5" font-size="42">[111]</text>
</g>
<g id="legend">
<circle cx="155.7" cy="546.9" r="28.4" fill="url(#lK)"/>
<text x="198.5" y="561" font-size="42">K</text>
<circle cx="276.4" cy="548.1" r="21.4" fill="url(#lR)"/>
<text x="303.5" y="561" font-size="42">Ta-<tspan class="se" font-size="46">I</tspan></text>
<circle cx="432.2" cy="546.3" r="21" fill="url(#lY)"/>
<text x="457.5" y="561" font-size="42">Ta-<tspan class="se" font-size="46">II</tspan></text>
<circle cx="597" cy="549.6" r="20.5" fill="url(#lP)"/>
<text x="629" y="561" font-size="42">Ta-<tspan class="se" font-size="46">III</tspan></text>
<circle cx="773.6" cy="545.9" r="7.5" fill="url(#lO)"/>
<text x="797" y="561" font-size="42">O</text>
</g>
<defs>
<linearGradient id="gTop" gradientUnits="userSpaceOnUse" x1="352" y1="766" x2="500" y2="1060"><stop offset="0" stop-color="#bcbab6"/><stop offset="0.5" stop-color="#aeaca9"/><stop offset="1" stop-color="#a9a8a6"/></linearGradient>
<linearGradient id="gFront" gradientUnits="userSpaceOnUse" x1="200" y1="950" x2="534" y2="1100"><stop offset="0" stop-color="#d2d2d0"/><stop offset="0.6" stop-color="#d0d0ce"/><stop offset="1" stop-color="#c2c2c1"/></linearGradient>
<linearGradient id="gRight" gradientUnits="userSpaceOnUse" x1="534" y1="1100" x2="669" y2="900"><stop offset="0" stop-color="#b4b4b3"/><stop offset="1" stop-color="#c4c4c2"/></linearGradient>
<linearGradient id="gLaser" x1="0" y1="0" x2="1" y2="0"><stop offset="0" stop-color="#0c0c0c"/><stop offset="0.3" stop-color="#1d1d1d"/><stop offset="0.75" stop-color="#151515"/><stop offset="1" stop-color="#060606"/></linearGradient>
<clipPath id="clipTop"><polygon points="352,766.5 669,886.8 534.6,1071.2 196.4,926"/></clipPath>

</defs>
<g id="device">
<polygon points="196.4,926 534.6,1071.2 534.6,1127 205,979.5" fill="url(#gFront)"/>
<polygon points="534.6,1071.2 669,886.8 669,932 534.6,1127" fill="url(#gRight)"/>
<polygon points="352,766.5 669,886.8 534.6,1071.2 196.4,926" fill="url(#gTop)"/>
<g clip-path="url(#clipTop)">
<polygon points="321.3,797.5 390,851.3 378.8,867.5 383.8,872.5 367.5,882.5 352.5,893.8 240,881.1 268,852" fill="#afa396" stroke="#8e8c8b" stroke-width="1.6" stroke-linejoin="round"/>
<polygon points="391,878.5 374,908 362,917 244.7,945.9 290,965.5 372,925 384,913 399.5,882.5" fill="#afa396" stroke="#8e8c8b" stroke-width="1.6" stroke-linejoin="round"/>
<polygon points="403.8,790 437,803 432.5,825 427.5,855 418.8,864 406.3,883.8 400,880 412.5,862.5 411.3,847.5" fill="#afa396" stroke="#8e8c8b" stroke-width="1.6" stroke-linejoin="round"/>
<polygon points="477,908.5 485.5,886.5 542.5,865.5 557.5,852.7 599.7,861.3 551,876 495.5,894.5 486,912.5" fill="#afa396" stroke="#8e8c8b" stroke-width="1.6" stroke-linejoin="round"/>
<polygon points="513.8,904 645,921.4 569,1024 480,947.5 489,930 504,919" fill="#afa396" stroke="#8e8c8b" stroke-width="1.6" stroke-linejoin="round"/>
<polygon points="466,910.5 474.5,914 456,944 467.5,1042.8 427,1025.6 443,940" fill="#afa396" stroke="#8e8c8b" stroke-width="1.6" stroke-linejoin="round"/>
<path d="M381 871 L501 921.5" stroke="#8e8c8b" stroke-width="10.5" fill="none"/>
<path d="M379 870.2 L503 922.3" stroke="#afa396" stroke-width="7.5" fill="none"/>
<polygon points="551,877 599.7,861.3 669,886.8 645,921.4 513.8,904" fill="#c6c6c3" opacity="0.8"/>
<ellipse cx="435.6" cy="905.0" rx="137.0" ry="96.0" fill="#a6a6ea" fill-opacity="0.33"/>
</g>
<path d="M398 712 L308.35 869.43 A137.0 96.0 0 1 0 561.29 866.8 L465.5 712 Z" fill="#a8a8e6" fill-opacity="0.46"/>
<clipPath id="clipSpot"><ellipse cx="435.6" cy="905.0" rx="137.0" ry="96.0"/></clipPath>
<g clip-path="url(#clipSpot)">
<polygon points="321.3,797.5 390,851.3 378.8,867.5 383.8,872.5 367.5,882.5 352.5,893.8 240,881.1 268,852" fill="#4e4570" fill-opacity="0.13" stroke="#77769a" stroke-opacity="0.8" stroke-width="1.3" stroke-linejoin="round"/>
<polygon points="391,878.5 374,908 362,917 244.7,945.9 290,965.5 372,925 384,913 399.5,882.5" fill="#4e4570" fill-opacity="0.13" stroke="#77769a" stroke-opacity="0.8" stroke-width="1.3" stroke-linejoin="round"/>
<polygon points="403.8,790 437,803 432.5,825 427.5,855 418.8,864 406.3,883.8 400,880 412.5,862.5 411.3,847.5" fill="#4e4570" fill-opacity="0.13" stroke="#77769a" stroke-opacity="0.8" stroke-width="1.3" stroke-linejoin="round"/>
<polygon points="477,908.5 485.5,886.5 542.5,865.5 557.5,852.7 599.7,861.3 551,876 495.5,894.5 486,912.5" fill="#4e4570" fill-opacity="0.13" stroke="#77769a" stroke-opacity="0.8" stroke-width="1.3" stroke-linejoin="round"/>
<polygon points="513.8,904 645,921.4 569,1024 480,947.5 489,930 504,919" fill="#4e4570" fill-opacity="0.13" stroke="#77769a" stroke-opacity="0.8" stroke-width="1.3" stroke-linejoin="round"/>
<polygon points="466,910.5 474.5,914 456,944 467.5,1042.8 427,1025.6 443,940" fill="#4e4570" fill-opacity="0.13" stroke="#77769a" stroke-opacity="0.8" stroke-width="1.3" stroke-linejoin="round"/>
<path d="M379 870.2 L503 922.3" stroke="#4e4570" stroke-opacity="0.13" stroke-width="8.5" fill="none"/>
<path d="M379.8 865.6 L504.6 918" stroke="#77769a" stroke-opacity="0.7" stroke-width="1.2" fill="none"/>
<path d="M377.6 874.6 L501.6 926.8" stroke="#77769a" stroke-opacity="0.7" stroke-width="1.2" fill="none"/>
</g>
<path d="M308.35 869.43 A137.0 96.0 0 0 1 561.29 866.8" fill="none" stroke="#c4c4ea" stroke-opacity="0.55" stroke-width="2.2"/>
<path d="M392 663 A38.6 20.6 0 0 1 469.2 663 L469.2 698 A38.6 21.5 0 0 1 392 698 Z" fill="url(#gLaser)"/>
<ellipse cx="430.6" cy="661.5" rx="33.5" ry="15.5" fill="#1f1f1f" stroke="#2b2b2b" stroke-width="1.4"/>
<text transform="matrix(0.9205 0.3907 0.045 0.9 221 983.8)" font-size="47.3" fill="#f8c867" stroke="#d9a347" stroke-width="2.2" stroke-linejoin="round" style="paint-order:stroke">KTO Substrate</text>
<text transform="matrix(0.9205 0.3907 -0.425 0.556 527.5 926.5)" font-size="43" fill="#f3f0f8" stroke="#f3f0f8" stroke-width="2" stroke-linejoin="round">CZO</text>
<g fill="#77778a" fill-opacity="0.9"><circle cx="329" cy="863" r="5.6"/><circle cx="418" cy="823.5" r="5.6"/><circle cx="525.5" cy="941.5" r="5.6"/><circle cx="449.8" cy="994.4" r="5.6"/><circle cx="544" cy="872.5" r="4.5"/></g>
<path d="M418 823.5 L489 745.5" stroke="#6f6f86" stroke-width="4.2" fill="none"/>
<path d="M525.5 941.5 L555 954" stroke="#6f6f86" stroke-width="4.6" fill="none"/>
<path d="M544 872.5 L569 881.5" stroke="#77778a" stroke-width="4.6" fill="none"/>
<path d="M544 872.5 L560 851" stroke="#77778a" stroke-width="4.6" fill="none"/>
<path d="M317 858.5 L233 825.5 L58 995.5 L243 1081.5 M341.5 1128.5 L522.8 1213.3 L668.2 1000.5 L554 953.5 M489 745.5 L552 766.5 M552 765 L612.5 789 L559 852.5 M568.5 881.3 L755.3 955.3 L709 1017 M715.5 1017 L666.3 1089.8 L644.8 1079.8 A24 24 0 0 0 601 1059.5 L455 996.5" stroke="#000" stroke-width="5.6" fill="none" stroke-linejoin="miter" stroke-linecap="butt"/>
<circle cx="552" cy="761.8" r="37.3" fill="#fff" stroke="#000" stroke-width="5.4"/>
<circle cx="720" cy="1017" r="37.5" fill="#fff" stroke="#000" stroke-width="5.4"/>
<circle cx="275.8" cy="1092.8" r="34.2" fill="none" stroke="#000" stroke-width="5.6"/>
<circle cx="308.6" cy="1109" r="34.2" fill="none" stroke="#000" stroke-width="5.6"/>
<g transform="translate(539 765.9) rotate(24)"><text x="-10.2" y="3" font-size="42.5" class="it">V</text></g>
<g transform="translate(548.9 760.5) rotate(24)"><text x="12" y="13" font-size="30">x</text></g>
<g transform="translate(704.5 1021.4) rotate(24)"><text x="-10.2" y="3" font-size="42.5" class="it">V</text></g>
<g transform="translate(714.3 1016.2) rotate(24)"><text x="12" y="13" font-size="30" class="it">y</text></g>
<path d="M227.5 1024.5 L252.5 1036.5 M245.5 1017.5 L234.5 1043.5" stroke="#000" stroke-width="4.6" fill="none"/>
<path d="M375 1107 L390 1114" stroke="#000" stroke-width="4.6" fill="none"/>
</g>
</svg>
</body></html>
